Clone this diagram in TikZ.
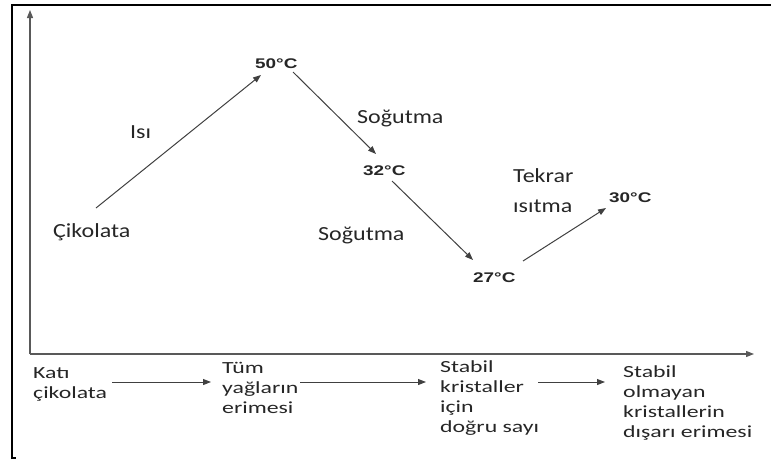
\documentclass[tikz,border=0pt]{standalone}
\usepackage{fontspec}
\usetikzlibrary{arrows.meta}
\newfontfamily\labfont[FakeStretch=1.2]{Carlito}
\newfontfamily\botfont[FakeStretch=1.4]{Carlito}
\newfontfamily\tempfont[FakeStretch=1.35]{Liberation Sans}
\begin{document}
\begin{tikzpicture}[x=1pt,y=-1pt,
  lbl/.style={font=\labfont\fontsize{20}{30}\selectfont, text=black!85, inner sep=0, anchor=base west, align=left},
  tmp/.style={font=\tempfont\bfseries\fontsize{14}{16}\selectfont, text=black!85, inner sep=0, anchor=base west},
  bot/.style={font=\botfont\fontsize{17}{20}\selectfont, text=black!85, align=left, inner sep=0, anchor=north west},
  conn/.style={draw=black!75, line width=1pt, -{Triangle[length=8pt,width=6pt]}},
  axisline/.style={draw=black!65, line width=1.2pt, -{Triangle[length=8pt,width=6pt]}}]
\useasboundingbox (0,0) rectangle (771,459);
% outer frame
\draw[line width=2pt] (12,459) -- (12,5) -- (771,5);
\draw[line width=1.5pt] (12,458) -- (16,458);
% axes
\coordinate (origin) at (30,354);
\coordinate (ytop) at (30,10);
\coordinate (xend) at (754,354);
\draw[axisline] (origin) -- (ytop);
\draw[axisline] (origin) -- (xend);
% curve labels
\node[lbl] (isi) at (130,138) {Isı};
\node[lbl] (cik) at (53,237) {Çikolata};
\node[lbl] (sog1) at (357,123) {Soğutma};
\node[lbl] (sog2) at (318,240) {Soğutma};
\node[lbl] (tek) at (513,212) {Tekrar\\ısıtma};
\node[tmp] (t50) at (255,68) {50°C};
\node[tmp] (t32) at (363,175) {32°C};
\node[tmp] (t27) at (473,282) {27°C};
\node[tmp] (t30) at (609,202) {30°C};
% curve arrows
\coordinate (a1s) at (96,208);  \coordinate (a1e) at (261,75);
\coordinate (a2s) at (293,72);  \coordinate (a2e) at (376,154);
\coordinate (a3s) at (392,181); \coordinate (a3e) at (473,260);
\coordinate (a4s) at (523,261); \coordinate (a4e) at (606,208);
\draw[conn] (a1s) -- (a1e);
\draw[conn] (a2s) -- (a2e);
\draw[conn] (a3s) -- (a3e);
\draw[conn] (a4s) -- (a4e);
% bottom process
\node[bot] (b1) at (33,367) {Katı\\çikolata};
\node[bot] (b2) at (222,362) {Tüm\\yağların\\erimesi};
\node[bot] (b3) at (440,360) {Stabil\\kristaller\\için\\doğru sayı};
\node[bot] (b4) at (623,365) {Stabil\\olmayan\\kristallerin\\dışarı erimesi};
\coordinate (p1s) at (112,382); \coordinate (p1e) at (211,382);
\coordinate (p2s) at (300,382); \coordinate (p2e) at (426,382);
\coordinate (p3s) at (538,382); \coordinate (p3e) at (605,382);
\draw[conn] (p1s) -- (p1e);
\draw[conn] (p2s) -- (p2e);
\draw[conn] (p3s) -- (p3e);
\end{tikzpicture}
\end{document}
